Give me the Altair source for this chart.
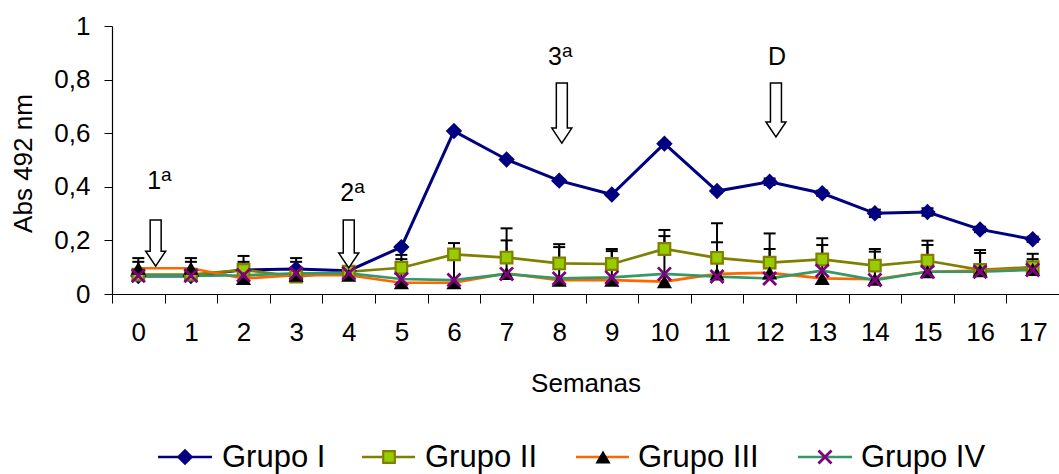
import altair as alt
import pandas as pd

# ---------------- data ----------------
weeks = list(range(18))
groups = ["Grupo I", "Grupo II", "Grupo III", "Grupo IV"]

grupo_I = [0.067, 0.067, 0.090, 0.093, 0.087, 0.175, 0.608, 0.502, 0.423, 0.371,
           0.561, 0.384, 0.419, 0.376, 0.301, 0.306, 0.241, 0.204]
grupo_II = [0.072, 0.072, 0.090, 0.065, 0.083, 0.098, 0.148, 0.136, 0.114, 0.112,
            0.168, 0.135, 0.117, 0.129, 0.106, 0.124, 0.090, 0.100]
grupo_III = [0.096, 0.096, 0.058, 0.070, 0.070, 0.042, 0.042, 0.077, 0.052, 0.052,
             0.046, 0.075, 0.079, 0.058, 0.055, 0.083, 0.087, 0.092]
grupo_IV = [0.068, 0.068, 0.070, 0.077, 0.077, 0.056, 0.052, 0.075, 0.058, 0.062,
            0.075, 0.065, 0.058, 0.087, 0.052, 0.083, 0.083, 0.090]

# standard deviations (error bars)
err_I = [0.005, 0.005, 0.005, 0.005, 0.005, 0.005, 0.005, 0.005, 0.005, 0.005,
         0.005, 0.005, 0.012, 0.010, 0.014, 0.014, 0.010, 0.010]
err_II = [0.062, 0.062, 0.052, 0.069, 0.017, 0.048, 0.042, 0.109, 0.072, 0.056,
          0.071, 0.129, 0.109, 0.079, 0.062, 0.075, 0.074, 0.050]
err_III = [0.024, 0.024, 0.062, 0.050, 0.025, 0.088, 0.118, 0.123, 0.123, 0.108,
           0.170, 0.118, 0.089, 0.125, 0.103, 0.100, 0.066, 0.038]

# annotations (arrows: week, top value, tip value)
arrow_x = [0.33, 4.0, 8.05, 12.12]
arrow_top = [0.276, 0.276, 0.787, 0.787]
arrow_tip = [0.104, 0.097, 0.563, 0.586]
label_num = ["1", "2", "3", "D"]
label_sup = ["a", "a", "a", ""]
label_x = [0.30, 3.97, 7.92, 12.14]
label_y = [0.423, 0.377, 0.886, 0.886]

y_ticks = [0, 0.2, 0.4, 0.6, 0.8, 1]

# ---------------- layout / style ----------------
FONT = "Liberation Sans"
W, H = 947, 268
PAD = {"left": 112, "top": 26, "right": 0, "bottom": 180}
BAND = W / 18.0

colors_line = {"Grupo I": "#000080", "Grupo II": "#808000", "Grupo III": "#FF6600", "Grupo IV": "#339966"}

series = {"Grupo I": grupo_I, "Grupo II": grupo_II, "Grupo III": grupo_III, "Grupo IV": grupo_IV}

rows = []
for g in groups:
    for w, v in zip(weeks, series[g]):
        rows.append({"group": g, "week": w, "value": v})
df = pd.DataFrame(rows)

err_rows = []
for w, v, e in zip(weeks, grupo_I, err_I):
    err_rows.append({"week": w, "lo": v - e, "hi": v + e, "kind": "both"})
for w, v, e in zip(weeks, grupo_II, err_II):
    err_rows.append({"week": w, "lo": v, "hi": v + e, "kind": "plus"})
for w, v, e in zip(weeks, grupo_III, err_III):
    err_rows.append({"week": w, "lo": v, "hi": v + e, "kind": "plus"})
edf = pd.DataFrame(err_rows)

x_axis = alt.Axis(
    values=[-0.5 + i for i in range(19)],
    labelExpr="datum.value > 17 ? '' : format(datum.value + 0.5, 'd')",
    labelOffset=BAND / 2, labelFlush=False, labelOverlap=False,
    tickSize=9, tickColor="black", domainColor="black", tickWidth=1, domainWidth=1.2,
    labelFontSize=26, labelColor="black", labelPadding=16,
    title="Semanas", titleFontSize=26, titleColor="black", titleFontWeight="normal",
    titleBaseline="middle", titleY=89, titleX=W / 2, grid=False,
)
y_axis = alt.Axis(
    values=y_ticks,
    labelExpr="replace(format(datum.value, '.1~f'), '.', ',')",
    tickSize=8, tickColor="black", domainColor="black", tickWidth=1, domainWidth=1.2,
    labelFontSize=26, labelColor="black", labelPadding=14,
    title="Abs 492 nm", titleFontSize=26, titleColor="black", titleFontWeight="normal",
    titleAngle=-90, titleAlign="center", titleBaseline="middle", titleX=-89, titleY=137,
    grid=False,
)
x_scale = alt.Scale(domain=[-0.5, 17.5], nice=False, zero=False)
y_scale = alt.Scale(domain=[0, 1], nice=False)


def X(field):
    return alt.X(f"{field}:Q", scale=x_scale, axis=x_axis, title="Semanas")


def Y(field):
    return alt.Y(f"{field}:Q", scale=y_scale, axis=y_axis, title="Abs 492 nm")


layers = []
# lines
for g in groups:
    layers.append(
        alt.Chart(df[df.group == g]).mark_line(color=colors_line[g],
                                               strokeWidth=3 if g == "Grupo I" else 2.7)
        .encode(x=X("week"), y=Y("value"))
    )
# error bars
layers.append(
    alt.Chart(edf).mark_rule(color="black", strokeWidth=2)
    .encode(x=X("week"), y=Y("lo"), y2="hi")
)
layers.append(
    alt.Chart(edf).mark_tick(orient="horizontal", size=12, thickness=2, color="black", opacity=1)
    .encode(x=X("week"), y=Y("hi"))
)
layers.append(
    alt.Chart(edf[edf.kind == "both"]).mark_tick(orient="horizontal", size=12, thickness=2,
                                                 color="black", opacity=1)
    .encode(x=X("week"), y=Y("lo"))
)

XSHAPE = "M-1,-1L1,1M-1,1L1,-1"
marker_specs = {
    "Grupo I": dict(shape="diamond", size=270, filled=True, color="#000080", opacity=1),
    "Grupo II": dict(shape="square", size=135, filled=True, fill="#99CC00", stroke="#808000",
                     strokeWidth=2.2, opacity=1),
    "Grupo III": dict(shape="triangle-up", size=230, filled=True, color="black", opacity=1),
    "Grupo IV": dict(shape=XSHAPE, size=170, filled=False, stroke="#800080", strokeWidth=2.8,
                     opacity=1),
}
for g in groups:
    layers.append(
        alt.Chart(df[df.group == g]).mark_point(**marker_specs[g])
        .encode(x=X("week"), y=Y("value"))
    )

# arrows (hollow block arrows)
for ax, at, ap in zip(arrow_x, arrow_top, arrow_tip):
    hpx = (at - ap) * H
    half = hpx / 2.0
    sw = 5.5 / half
    hw = 10.0 / half
    h0 = 1 - 15.0 / half
    path = (f"M{-sw:.4f},-1L{sw:.4f},-1L{sw:.4f},{h0:.4f}L{hw:.4f},{h0:.4f}L0,1"
            f"L{-hw:.4f},{h0:.4f}L{-sw:.4f},{h0:.4f}Z")
    adf = pd.DataFrame({"ax": [ax], "ay": [(at + ap) / 2]})
    layers.append(
        alt.Chart(adf).mark_point(shape=path, size=hpx * hpx, filled=True, fill="white",
                                  stroke="black", strokeWidth=1.5, opacity=1)
        .encode(x=X("ax"), y=Y("ay"))
    )

ldf = pd.DataFrame({"lx": label_x, "ly": label_y, "num": label_num, "sup": label_sup})
layers.append(
    alt.Chart(ldf).mark_text(font=FONT, fontSize=25, color="black", align="center",
                             baseline="middle")
    .encode(x=X("lx"), y=Y("ly"), text="num:N")
)
layers.append(
    alt.Chart(ldf).mark_text(font=FONT, fontSize=19, color="black", align="left",
                             baseline="middle", dx=7, dy=-6)
    .encode(x=X("lx"), y=Y("ly"), text="sup:N")
)

# manual legend (line + marker + label), below the plot
leg_line_x1 = [46, 250, 464, 686]
leg_line_x2 = [100, 303, 517, 740]
leg_mark_x = [73, 277, 491, 713]
leg_text_x = [110, 313, 526, 749]
LEG_Y = 431
for i, g in enumerate(groups):
    d = pd.DataFrame({"label": [g]})
    layers.append(
        alt.Chart(d).mark_rule(color=colors_line[g], strokeWidth=2.7)
        .encode(x=alt.value(leg_line_x1[i]), x2=alt.value(leg_line_x2[i]), y=alt.value(LEG_Y))
    )
    layers.append(
        alt.Chart(d).mark_point(**marker_specs[g])
        .encode(x=alt.value(leg_mark_x[i]), y=alt.value(LEG_Y))
    )
    layers.append(
        alt.Chart(d).mark_text(font=FONT, fontSize=31, color="black", align="left",
                               baseline="middle")
        .encode(x=alt.value(leg_text_x[i]), y=alt.value(LEG_Y + 1), text="label:N")
    )

chart = (
    alt.layer(*layers)
    .properties(width=W, height=H, padding=PAD, autosize=alt.AutoSizeParams(type="none"),
                background="white")
    .configure_view(stroke=None)
    .configure_axis(labelFont=FONT, titleFont=FONT)
    .configure_text(font=FONT)
)

chart.save("out.html", embed_options={"renderer": "svg", "actions": False})
